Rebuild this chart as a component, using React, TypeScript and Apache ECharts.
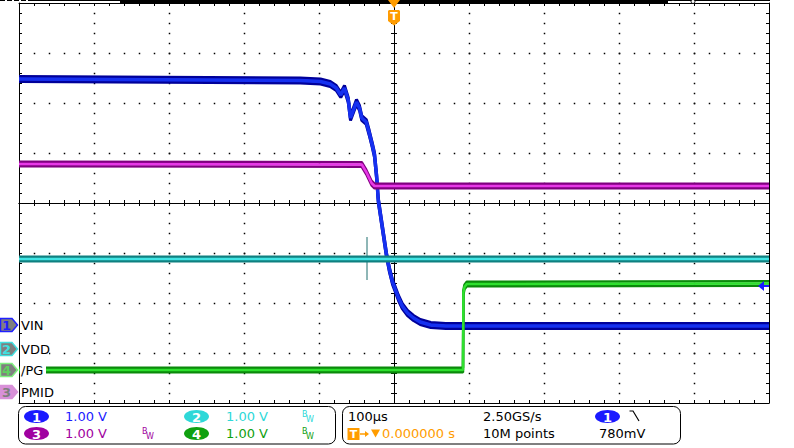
import React, { useEffect, useRef } from "react";
import * as echarts from "echarts";

// ---- scope setup ----
const channelNumbers = [1, 2, 4, 3];
const channelNames = ["VIN", "VDD", "/PG", "PMID"];
const channelOffsetsDiv = [-2.44, -2.92, -3.34, -3.78]; // ground markers, divisions from centre
const triggerLevelV = 0.78;

const timeMin = -500;
const timeMax = 500;
const timeStep = 100; // µs per division
const divMin = -4;
const divMax = 4;
const divStep = 1;
const minorPerDiv = 5;

// ---- CH1 VIN (V) ----
const vinTimeUs = [-500, -125, -98, -85, -77, -71, -66, -61, -58, -54, -50, -46, -43, -37, -33, -29, -26, -23, -21, -17, -14, -10, -6, -2, 2, 6, 11, 18, 26, 35, 49, 69, 500];
const vinVolts = [4.92, 4.89, 4.87, 4.82, 4.74, 4.6, 4.74, 4.5, 4.14, 4.3, 4.46, 4.34, 4.14, 4.06, 3.84, 3.6, 3.4, 2.94, 2.5, 2.1, 1.8, 1.4, 1.1, 0.86, 0.7, 0.54, 0.38, 0.24, 0.14, 0.06, 0.0, -0.02, -0.02];

// ---- CH3 PMID (V) ----
const pmidTimeUs = [-500, -43, -37, -30, -26, 500];
const pmidVolts = [4.56, 4.55, 4.4, 4.18, 4.12, 4.12];

// ---- CH2 VDD (V) ----
const vddTimeUs = [-500, 500];
const vddVolts = [1.8, 1.8];
const vddGlitchTimeUs = [-36, -36];
const vddGlitchVolts = [2.24, 1.38];

// ---- CH4 /PG (V) ----
const pgTimeUs = [-500, 92, 92.5, 94, 97, 500];
const pgVolts = [0, 0, 1.55, 1.66, 1.72, 1.73];

// ---- info bar texts ----
const channelScales = ["1.00 V", "1.00 V", "1.00 V", "1.00 V"];
const timebaseText = "100µs";
const sampleRateText = "2.50GS/s";
const memoryText = "10M points";
const triggerDelayText = "0.000000 s";
const triggerLevelText = "780mV";

const FONT = '"DejaVu Sans", sans-serif';
const ORANGE = "#ff9c00";
const CH_COLORS: Record<number, string> = { 1: "#1a1aff", 2: "#2ed8d8", 3: "#a000a0", 4: "#10a010" };
const SERIES_Z = 150;
const DOT_Z = 100;
const Z = 200;

function makeAxis(isX: boolean, position: string, onZero: boolean) {
  return {
    type: "value",
    position,
    min: isX ? timeMin : divMin,
    max: isX ? timeMax : divMax,
    interval: isX ? timeStep : divStep,
    axisLine: { show: true, onZero, lineStyle: { color: "#000", width: 1 } },
    axisTick: { show: true, inside: true, length: 3, lineStyle: { color: "#000", width: 1 } },
    minorTick: { show: true, splitNumber: minorPerDiv, length: 3, lineStyle: { color: "#000", width: 1 } },
    axisLabel: { show: false },
    splitLine: { show: false },
  };
}

function trace(times: number[], volts: number[], offset: number, dark: string, bright: string, spread: number, darkW: number, brightW: number) {
  const pts = (d: number) => times.map((t, i) => [t, offset + volts[i] + d]);
  const common = { type: "line", z: SERIES_Z, showSymbol: false, symbol: "none", silent: true, animation: false };
  return [
    { ...common, data: pts(spread), lineStyle: { color: dark, width: darkW } },
    { ...common, data: pts(-spread), lineStyle: { color: dark, width: darkW } },
    { ...common, data: pts(0), lineStyle: { color: bright, width: brightW } },
  ];
}

function buildOption() {
  return {
    animation: false,
    backgroundColor: "#fff",
    grid: { left: 19, right: 25, top: 3, bottom: 45, show: false },
    xAxis: [
      makeAxis(true, "bottom", false),
      makeAxis(true, "top", false),
      makeAxis(true, "bottom", true),
      makeAxis(true, "top", true),
    ],
    yAxis: [
      makeAxis(false, "left", false),
      makeAxis(false, "right", false),
      makeAxis(false, "left", true),
      makeAxis(false, "right", true),
    ],
    series: [
      ...trace(vinTimeUs, vinVolts, channelOffsetsDiv[0], "#00009a", "#1530f0", 0.05, 3, 3.5),
      ...trace(pmidTimeUs, pmidVolts, channelOffsetsDiv[3], "#800080", "#e838e8", 0.045, 2.5, 2.5),
      {
        type: "line",
        z: SERIES_Z,
        showSymbol: false,
        symbol: "none",
        silent: true,
        data: vddGlitchTimeUs.map((t, i) => [t, channelOffsetsDiv[1] + vddGlitchVolts[i]]),
        lineStyle: { color: "#1f6f6f", width: 1 },
      },
      ...trace(vddTimeUs, vddVolts, channelOffsetsDiv[1], "#0f8080", "#40e4e4", 0.045, 2.5, 2.5),
      ...trace(pgTimeUs, pgVolts, channelOffsetsDiv[2], "#0a8a0a", "#2ee02e", 0.045, 2.5, 2.5),
    ],
  };
}

function txt(x: number, y: number, s: string, fill: string, size = 13, align = "left", weight = "normal") {
  return {
    type: "text",
    x,
    y,
    z: Z,
    style: { text: s, fill, font: `${weight} ${size}px ${FONT}`, textAlign: align, textVerticalAlign: "middle" },
  };
}

function buildGraphics(px: (t: number) => number, py: (d: number) => number) {
  const els: any[] = [];

  // dotted graticule: one dot per minor subdivision along every major grid line
  const dot = (x: number, y: number) =>
    els.push({ type: "rect", z: DOT_Z, silent: true, shape: { x: Math.round(x) - 0.25, y: Math.round(y) - 0.25, width: 1.5, height: 1.5 }, style: { fill: "#000" } });
  const tMinor = timeStep / minorPerDiv;
  const dMinor = divStep / minorPerDiv;
  for (let t = timeMin + timeStep; t < timeMax; t += timeStep) {
    if (t === 0) continue;
    for (let d = divMin + dMinor; d < divMax - dMinor / 2; d += dMinor) dot(px(t), py(d));
  }
  for (let d = divMin + divStep; d < divMax; d += divStep) {
    if (d === 0) continue;
    for (let t = timeMin + tMinor; t < timeMax - tMinor / 2; t += tMinor) dot(px(t), py(d));
  }

  // top strip
  els.push({ type: "line", z: Z, shape: { x1: 0, y1: 0.5, x2: 28, y2: 0.5 }, style: { stroke: "#000", lineWidth: 1, lineDash: [5, 2] } });
  els.push({ type: "line", z: Z, shape: { x1: 28, y1: 0.5, x2: 770, y2: 0.5 }, style: { stroke: "#000", lineWidth: 1 } });
  els.push({ type: "rect", z: Z, shape: { x: 120, y: 0, width: 548, height: 3 }, style: { fill: "#000" } });
  els.push({ type: "circle", z: Z, shape: { cx: 693, cy: 1.5, r: 2 }, style: { fill: "#fff", stroke: "#000", lineWidth: 1 } });

  // trigger position marker
  const cx = px(0);
  els.push({ type: "polygon", z: Z, shape: { points: [[cx - 6, 0], [cx + 6, 0], [cx, 8]] }, style: { fill: ORANGE } });
  els.push({ type: "polygon", z: Z, shape: { points: [[cx - 6, 11], [cx - 5, 10], [cx + 5, 10], [cx + 6, 11], [cx + 6, 21], [cx, 25.5], [cx - 6, 21]] }, style: { fill: ORANGE } });
  els.push(txt(cx, 16.5, "T", "#fff", 11, "center", "bold"));

  // channel ground markers and labels
  const markerStyles: Record<number, { fill: string; stroke: string; digit: string }> = {
    1: { fill: "#7f7f7f", stroke: "#2020ff", digit: "#2020ff" },
    2: { fill: "#7f7f7f", stroke: "#40e0e0", digit: "#40e0e0" },
    4: { fill: "#7f7f7f", stroke: "#80f080", digit: "#60d060" },
    3: { fill: "#d890d8", stroke: "#d890d8", digit: "#7f7f7f" },
  };
  const labelWidths = [25, 29, 26, 34];
  channelNumbers.forEach((n, i) => {
    const y = py(channelOffsetsDiv[i]);
    const ms = markerStyles[n];
    els.push({ type: "polygon", z: Z, shape: { points: [[0.5, y - 6.5], [12, y - 6.5], [17.5, y], [12, y + 6.5], [0.5, y + 6.5]] }, style: { fill: ms.fill, stroke: ms.stroke, lineWidth: 1.5 } });
    els.push(txt(6.5, y + 0.5, String(n), ms.digit, 13, "center", "bold"));
    els.push({ type: "rect", z: Z - 1, shape: { x: 20, y: y - 7, width: labelWidths[i], height: 14 }, style: { fill: "#fff" } });
    els.push(txt(21, y + 0.5, channelNames[i], "#000", 13));
  });

  // trigger level arrow (right edge)
  const ty = py(channelOffsetsDiv[0] + triggerLevelV);
  const rx = px(timeMax);
  els.push({ type: "polygon", z: Z, shape: { points: [[rx - 11, ty], [rx - 5, ty - 5], [rx - 5, ty + 5]] }, style: { fill: "#1a1aff" } });
  els.push({ type: "line", z: Z, shape: { x1: rx - 6, y1: ty, x2: rx, y2: ty }, style: { stroke: "#1a1aff", lineWidth: 2 } });

  // info boxes
  els.push({ type: "rect", z: Z, shape: { x: 18.5, y: 406.5, width: 317, height: 37.5, r: 7 }, style: { fill: "none", stroke: "#000", lineWidth: 1 } });
  els.push({ type: "rect", z: Z, shape: { x: 342.5, y: 406.5, width: 338, height: 37.5, r: 7 }, style: { fill: "none", stroke: "#000", lineWidth: 1 } });

  const row1 = 416.5;
  const row2 = 433.5;
  const badge = (bx: number, by: number, n: number) => {
    els.push({ type: "ellipse", z: Z, shape: { cx: bx, cy: by, rx: 12.5, ry: 6.5 }, style: { fill: CH_COLORS[n] } });
    els.push(txt(bx, by + 0.5, String(n), "#fff", 13, "center", "bold"));
  };
  const bw = (bx: number, by: number, color: string) => {
    els.push(txt(bx, by - 2.5, "B", color, 8));
    els.push(txt(bx + 4, by + 3, "W", color, 8));
  };
  // CH1
  badge(36.5, row1, 1);
  els.push(txt(65, row1, channelScales[0], CH_COLORS[1]));
  // CH2
  badge(196.5, row1, 2);
  els.push(txt(226, row1, channelScales[1], CH_COLORS[2]));
  bw(302, row1, CH_COLORS[2]);
  // CH3
  badge(36.5, row2, 3);
  els.push(txt(65, row2, channelScales[3], CH_COLORS[3]));
  bw(142, row2, CH_COLORS[3]);
  // CH4
  badge(196.5, row2, 4);
  els.push(txt(226, row2, channelScales[2], CH_COLORS[4]));
  bw(302, row2, CH_COLORS[4]);

  // timebase / trigger
  els.push(txt(348, row1, timebaseText, "#000"));
  els.push({ type: "rect", z: Z, shape: { x: 347.5, y: 428, width: 12, height: 12 }, style: { fill: ORANGE } });
  els.push(txt(353.5, 434.5, "T", "#fff", 11, "center", "bold"));
  els.push({ type: "line", z: Z, shape: { x1: 360, y1: 434, x2: 366, y2: 434 }, style: { stroke: ORANGE, lineWidth: 1.5 } });
  els.push({ type: "polygon", z: Z, shape: { points: [[365, 431], [369, 434], [365, 437]] }, style: { fill: ORANGE } });
  els.push({ type: "polygon", z: Z, shape: { points: [[371, 429.5], [380, 429.5], [375.5, 437.5]] }, style: { fill: ORANGE } });
  els.push(txt(382, row2, triggerDelayText, ORANGE));
  els.push(txt(483, row1, sampleRateText, "#000"));
  els.push(txt(483, row2, memoryText, "#000"));
  badge(607.5, row1, 1);
  els.push({ type: "polyline", z: Z, shape: { points: [[629.5, 411], [633, 411], [639, 421]] }, style: { stroke: "#000", lineWidth: 1.2, fill: "none" } });
  els.push(txt(599, row2, triggerLevelText, "#000"));
  return els;
}

export default function App() {
  const ref = useRef<HTMLDivElement>(null);
  useEffect(() => {
    const el = ref.current;
    if (!el) return;
    const chart = echarts.init(el, null, { renderer: "svg" });
    chart.setOption(buildOption() as any);
    const px = (t: number) => chart.convertToPixel({ xAxisIndex: 0 }, t) as unknown as number;
    const py = (d: number) => chart.convertToPixel({ yAxisIndex: 0 }, d) as unknown as number;
    chart.setOption({ graphic: buildGraphics(px, py) } as any);
    return () => chart.dispose();
  }, []);
  return (
    <div
      ref={ref}
      style={{ position: "absolute", left: 0, top: 0, width: 794, height: 448, background: "#fff" }}
    />
  );
}
